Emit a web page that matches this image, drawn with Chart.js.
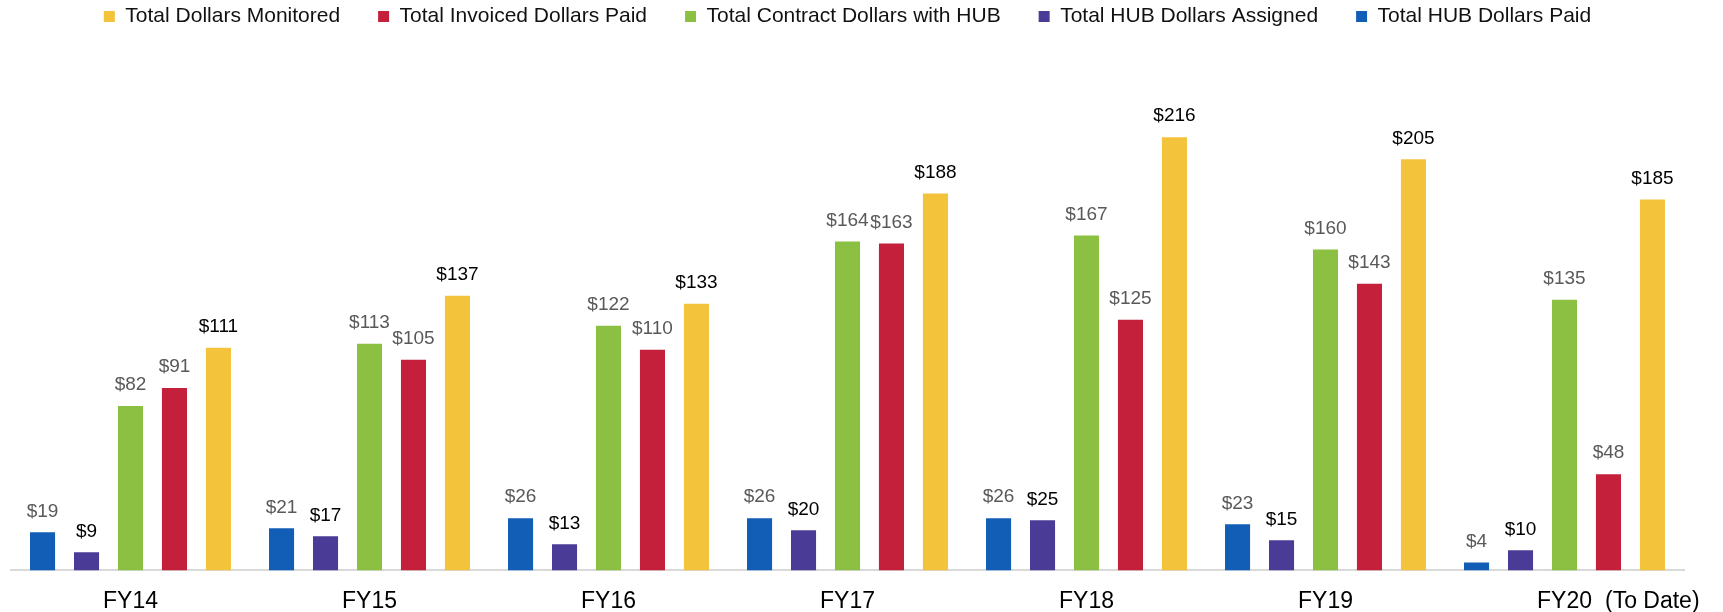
<!DOCTYPE html>
<html>
<head>
<meta charset="utf-8">
<script src="https://cdn.jsdelivr.net/npm/chart.js@4/dist/chart.umd.min.js"></script>
<style>
  html, body { margin: 0; padding: 0; background: #fff; }
  #wrap { width: 1723px; height: 612px; }
</style>
</head>
<body>
<div id="wrap"><canvas id="hubChart"></canvas></div>
<script>
const years = ['FY14', 'FY15', 'FY16', 'FY17', 'FY18', 'FY19', 'FY20'];
const hubPaid = [19, 21, 26, 26, 26, 23, 4];
const hubAssigned = [9, 17, 13, 20, 25, 15, 10];
const contractHub = [82, 113, 122, 164, 167, 160, 135];
const invoicedPaid = [91, 105, 110, 163, 125, 143, 48];
const monitored = [111, 137, 133, 188, 216, 205, 185];

const FONT = '"Liberation Sans", Arial, sans-serif';
const TICK_PAD = 17;

// dollar labels above every bar
const barLabels = {
    id: 'barLabels',
    afterDatasetsDraw(chart) {
        const c = chart.ctx;
        c.save();
        c.font = '19px ' + FONT;
        c.textAlign = 'center';
        c.textBaseline = 'middle';
        chart.data.datasets.forEach((ds, i) => {
            chart.getDatasetMeta(i).data.forEach((bar, j) => {
                c.fillStyle = ds.labelColor;
                c.fillText('$' + ds.data[j], bar.x, bar.y - 21);
            });
        });
        c.restore();
    }
};

// "(To Date)" note next to the last category
const toDate = {
    id: 'toDate',
    afterDraw(chart) {
        const xs = chart.scales.x;
        const c = chart.ctx;
        c.save();
        c.font = '23px ' + FONT;
        c.fillStyle = '#000';
        c.textBaseline = 'middle';
        const last = years.length - 1;
        const w = c.measureText(years[last]).width;
        c.fillText('(To Date)', xs.getPixelForTick(last) + w / 2 + 13, xs.top + TICK_PAD + 23 * 1.2 / 2);
        c.restore();
    }
};

const ctx = document.getElementById('hubChart').getContext('2d');
let hubChart = new Chart(ctx, {
    type: 'bar',
    data: {
        labels: years,
        datasets: [
            { label: 'Total HUB Dollars Paid', data: hubPaid, backgroundColor: '#125EB6', labelColor: '#595959' },
            { label: 'Total HUB Dollars Assigned', data: hubAssigned, backgroundColor: '#4A3B97', labelColor: '#000' },
            { label: 'Total Contract Dollars with HUB', data: contractHub, backgroundColor: '#8CC043', labelColor: '#595959' },
            { label: 'Total Invoiced Dollars Paid', data: invoicedPaid, backgroundColor: '#C41F3B', labelColor: '#595959' },
            { label: 'Total Dollars Monitored', data: monitored, backgroundColor: '#F4C33C', labelColor: '#000' }
        ]
    },
    options: {
        responsive: true,
        maintainAspectRatio: false,
        animation: false,
        categoryPercentage: 0.92,
        barPercentage: 0.57,
        layout: {
            padding: { top: -32, left: 11, right: 39, bottom: -20 }
        },
        plugins: {
            tooltip: { enabled: false },
            legend: {
                position: 'top',
                reverse: true,
                labels: {
                    boxWidth: 11,
                    boxHeight: 11,
                    padding: 38,
                    color: '#111',
                    font: { family: FONT, size: 21 }
                }
            }
        },
        scales: {
            x: {
                grid: { display: false, drawTicks: false },
                border: { display: true, color: '#d9d9d9', width: 2 },
                ticks: {
                    padding: TICK_PAD,
                    color: '#000',
                    font: { family: FONT, size: 23 }
                }
            },
            y: {
                display: false,
                beginAtZero: true,
                min: 0,
                max: 266
            }
        }
    },
    plugins: [barLabels, toDate]
});
</script>
</body>
</html>
